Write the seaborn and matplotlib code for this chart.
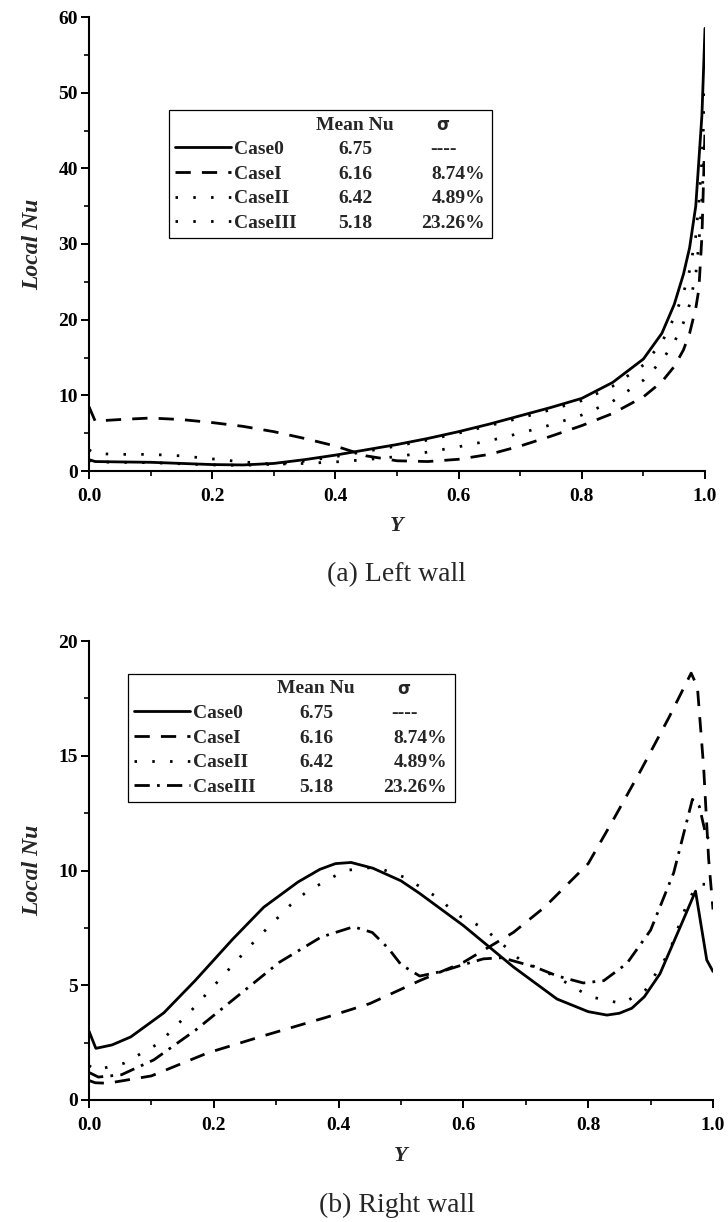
import numpy as np
import pandas as pd
import matplotlib
matplotlib.use("Agg")
import matplotlib.pyplot as plt
import seaborn as sns
from matplotlib.lines import Line2D
from matplotlib.ticker import MultipleLocator, FormatStrFormatter

sns.set_style("ticks")
plt.rcParams["font.family"] = ["Liberation Serif", "DejaVu Serif"]

# ---------------- data ----------------
cases = ["Case0", "CaseI", "CaseII", "CaseIII"]
mean_nu = ["6.75", "6.16", "6.42", "5.18"]
sigma = ["----", "8.74%", "4.89%", "23.26%"]

# (a) Left wall
left_y = [0, 0.01, 0.05, 0.1, 0.15, 0.2, 0.25, 0.3, 0.35, 0.4, 0.45, 0.5, 0.55, 0.6,
          0.65, 0.7, 0.75, 0.8, 0.85, 0.9, 0.93, 0.95, 0.965, 0.975, 0.985, 0.99, 0.995, 1.0]
left_case0 = [1.5, 1.25, 1.2, 1.15, 1.0, 0.85, 0.8, 1.0, 1.5, 2.1, 2.8, 3.5, 4.3, 5.2,
              6.2, 7.3, 8.4, 9.6, 11.7, 14.8, 18.2, 22.0, 26.0, 29.5, 35.0, 41.0, 47.0, 58.5]
left_case1 = [8.5, 6.6, 6.8, 7.0, 6.8, 6.4, 5.9, 5.2, 4.3, 3.3, 2.0, 1.35, 1.25, 1.55,
              2.2, 3.3, 4.6, 6.0, 7.6, 9.8, 11.8, 13.8, 16.0, 18.2, 21.5, 24.0, 31.0, 45.0]
left_case2 = [1.4, 1.2, 1.15, 1.1, 0.95, 0.8, 0.75, 0.9, 1.3, 1.9, 2.6, 3.3, 4.1, 5.0,
              6.0, 7.0, 8.1, 9.3, 11.2, 14.0, 17.0, 20.3, 23.5, 26.5, 31.0, 35.5, 41.0, 50.0]
left_case3 = [2.8, 2.3, 2.2, 2.2, 2.0, 1.6, 1.2, 0.9, 1.0, 1.2, 1.5, 1.9, 2.5, 3.2,
              4.0, 5.0, 6.1, 7.4, 9.2, 12.0, 14.6, 17.0, 19.6, 22.0, 26.0, 30.0, 36.0, 44.0]

# (b) Right wall
right_y0 = [0, 0.011, 0.037, 0.067, 0.12, 0.17, 0.23, 0.28, 0.335, 0.37, 0.395, 0.42,
            0.455, 0.5, 0.53, 0.6, 0.68, 0.75, 0.8, 0.83, 0.85, 0.87, 0.89, 0.915,
            0.95, 0.972, 0.99, 1.0]
right_case0 = [3.0, 2.25, 2.4, 2.75, 3.8, 5.2, 7.0, 8.4, 9.5, 10.05, 10.3, 10.35,
               10.1, 9.55, 9.0, 7.6, 5.8, 4.4, 3.85, 3.7, 3.78, 4.0, 4.5, 5.5,
               7.7, 9.1, 6.1, 5.6]
right_y1 = [0, 0.01, 0.03, 0.1, 0.19, 0.28, 0.38, 0.45, 0.53, 0.6, 0.68, 0.73, 0.8,
            0.84, 0.885, 0.93, 0.965, 0.975, 0.985, 0.993, 1.0]
right_case1 = [0.85, 0.75, 0.73, 1.05, 2.05, 2.8, 3.6, 4.2, 5.2, 6.0, 7.3, 8.4, 10.3,
               12.2, 14.4, 16.7, 18.6, 18.0, 14.5, 10.5, 8.3]
right_y2 = [0, 0.01, 0.056, 0.112, 0.164, 0.216, 0.268, 0.323, 0.35, 0.41, 0.46, 0.506,
            0.554, 0.595, 0.632, 0.658, 0.691, 0.75, 0.803, 0.855, 0.892, 0.929, 0.959,
            0.975, 0.99, 1.0]
right_case2 = [1.5, 1.3, 1.6, 2.47, 3.9, 5.45, 7.0, 8.5, 9.1, 10.0, 10.15, 9.7,
               8.9, 8.0, 7.5, 6.9, 6.1, 5.35, 4.5, 4.2, 4.8, 6.4, 8.6,
               9.4, 9.4, 9.0]
right_y3 = [0, 0.015, 0.052, 0.104, 0.171, 0.23, 0.305, 0.372, 0.424, 0.454, 0.48, 0.5,
            0.53, 0.565, 0.6, 0.632, 0.662, 0.714, 0.751, 0.792, 0.825, 0.862, 0.9,
            0.937, 0.967, 0.978, 0.989, 1.0]
right_case3 = [1.2, 1.0, 1.1, 1.75, 3.05, 4.35, 6.0, 7.1, 7.55, 7.3, 6.6, 5.9,
               5.4, 5.6, 5.9, 6.15, 6.2, 5.8, 5.4, 5.1, 5.2, 5.95, 7.4,
               9.9, 13.1, 12.8, 11.5, 11.2]

x_ticks = [0.0, 0.2, 0.4, 0.6, 0.8, 1.0]

# ---------------- styles ----------------
LW = 2.0
SOLID = None
DASH = (5.5, 4.0)
DOT = (0.9, 5.5)
DASHDOT = (5.5, 2.6, 1.0, 2.6)

W, H = 728, 1222
fig = plt.figure(figsize=(W / 100, H / 100), dpi=100)

ax1 = fig.add_axes([89 / W, 1 - 471 / H, 616 / W, 454 / H])
ax2 = fig.add_axes([89 / W, 1 - 1100 / H, 624 / W, 459 / H])


def draw(ax, xs, ys, dashes):
    df = pd.DataFrame({"Y": xs, "Nu": ys})
    sns.lineplot(data=df, x="Y", y="Nu", ax=ax, color="black", lw=LW,
                 estimator=None, sort=False)
    ln = ax.lines[-1]
    ln.set_solid_joinstyle("round")
    if dashes is not None:
        ln.set_dashes(dashes)
        ln.set_dash_capstyle("butt")
    return ln


l1 = [draw(ax1, left_y, left_case0, SOLID),
      draw(ax1, left_y, left_case1, DASH),
      draw(ax1, left_y, left_case2, DOT),
      draw(ax1, left_y, left_case3, DOT)]
l2 = [draw(ax2, right_y0, right_case0, SOLID),
      draw(ax2, right_y1, right_case1, DASH),
      draw(ax2, right_y2, right_case2, DOT),
      draw(ax2, right_y3, right_case3, DASHDOT)]


def style_axes(ax, ymax, ymaj, ymin_):
    ax.set_xlim(0, 1)
    ax.set_ylim(0, ymax)
    ax.set_xticks(x_ticks)
    ax.xaxis.set_minor_locator(MultipleLocator(0.1))
    ax.yaxis.set_major_locator(MultipleLocator(ymaj))
    ax.yaxis.set_minor_locator(MultipleLocator(ymin_))
    ax.xaxis.set_major_formatter(FormatStrFormatter("%.1f"))
    ax.yaxis.set_major_formatter(FormatStrFormatter("%d"))
    for s in ["top", "right"]:
        ax.spines[s].set_visible(False)
    for s in ["left", "bottom"]:
        ax.spines[s].set_linewidth(1.5)
        ax.spines[s].set_color("black")
    ax.tick_params(which="major", direction="out", length=6, width=1.4,
                   colors="black", labelsize=14)
    ax.tick_params(which="minor", direction="out", length=3.5, width=1.2,
                   colors="black")
    ax.tick_params(axis="x", which="major", pad=6)
    ax.tick_params(axis="y", which="major", pad=2)
    for t in ax.get_xticklabels() + ax.get_yticklabels():
        t.set_fontweight("bold")
    ax.set_xlabel("Y", fontsize=16, fontweight="bold", fontstyle="italic")
    ax.set_ylabel("Local Nu", fontsize=17, fontweight="bold", fontstyle="italic")
    ax.set_facecolor("white")


style_axes(ax1, 60, 10, 5)
style_axes(ax2, 20, 5, 2.5)
ax1.xaxis.set_label_coords(0.5, -0.10)
ax1.yaxis.set_label_coords(-0.075, 0.5)
ax2.xaxis.set_label_coords(0.5, -0.10)
ax2.yaxis.set_label_coords(-0.074, 0.5)

fig.text(397 / W, 1 - 575 / H, "(a) Left wall", ha="center", va="center", fontsize=20)
fig.text(397 / W, 1 - 1205 / H, "(b) Right wall", ha="center", va="center", fontsize=20)


def table_legend(ax, lines, box, mean_x, sig_hdr_x, sig_right_x, fs=14):
    blank = Line2D([], [], linestyle="none")
    leg = ax.legend([blank] + lines, [" "] + cases, loc="upper left",
                    bbox_to_anchor=box, mode="expand", borderaxespad=0,
                    frameon=True, fancybox=False, edgecolor="black",
                    fontsize=fs, handlelength=2.9, handletextpad=0.15,
                    labelspacing=0.36, borderpad=0.3, framealpha=1)
    leg.get_frame().set_linewidth(0.9)
    for t in leg.get_texts():
        t.set_fontweight("bold")
    fig.canvas.draw()
    inv = ax.transAxes.inverted()
    ys = []
    for t in leg.get_texts():
        bb = t.get_window_extent()
        ys.append(inv.transform(((bb.x0 + bb.x1) / 2, (bb.y0 + bb.y1) / 2))[1])
    kw = dict(transform=ax.transAxes, fontweight="bold", va="center", zorder=10)
    ax.text(mean_x, ys[0], "Mean Nu", ha="center", fontsize=fs, **kw)
    ax.text(sig_hdr_x, ys[0], "σ", ha="center", family=["DejaVu Sans"],
            fontsize=fs - 2, **kw)
    for i in range(4):
        ax.text(mean_x, ys[i + 1], mean_nu[i], ha="center", fontsize=fs, **kw)
        if sigma[i].startswith("-"):
            ax.text(sig_hdr_x, ys[i + 1], sigma[i], ha="center", fontsize=fs, **kw)
        else:
            ax.text(sig_right_x, ys[i + 1], sigma[i], ha="right", fontsize=fs, **kw)
    return leg


table_legend(ax1, l1, (0.13, 0.3, 0.524, 0.495), 0.432, 0.575, 0.643)
table_legend(ax2, l2, (0.0625, 0.3, 0.5245, 0.628), 0.364, 0.505, 0.574)

fig.savefig("out.png", dpi=100, facecolor="white")
